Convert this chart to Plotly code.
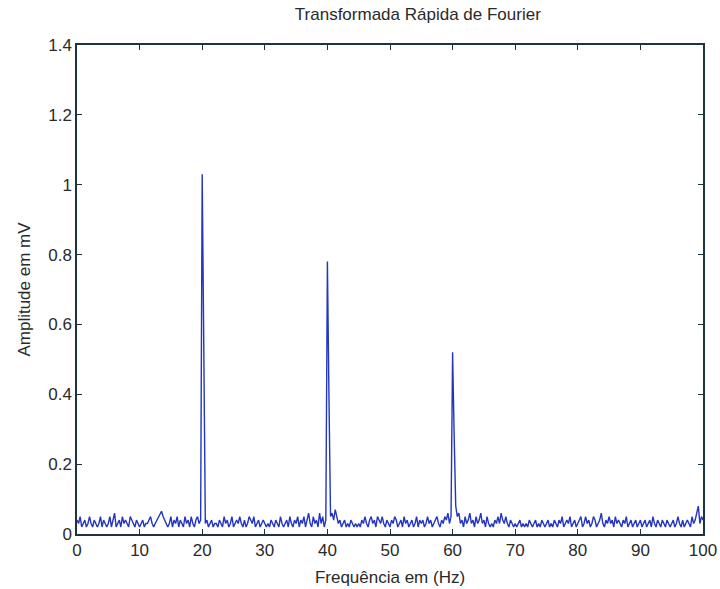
import numpy as np
import plotly.graph_objects as go

seg_00_05 = [0.04,0.03,0.05,0.02,0.03,0.04,0.02,0.03,0.05,0.03,0.02,0.04,0.03,0.02,0.03,0.05,0.02,0.04,0.03,0.02]
seg_05_10 = [0.03,0.05,0.02,0.04,0.06,0.02,0.03,0.04,0.02,0.05,0.03,0.04,0.03,0.02,0.05,0.04,0.03,0.02,0.04,0.03]
seg_10_15 = [0.02,0.03,0.04,0.02,0.03,0.03,0.04,0.05,0.03,0.02,0.03,0.04,0.05,0.06,0.065,0.05,0.04,0.03,0.02,0.03]
seg_15_20 = [0.05,0.02,0.04,0.03,0.05,0.02,0.04,0.03,0.02,0.05,0.03,0.04,0.02,0.05,0.03,0.02,0.04,0.05,0.03,0.04]
peak_20 = [1.03, 0.54]
seg_20_25 = [0.03,0.04,0.02,0.03,0.04,0.02,0.03,0.03,0.02,0.04,0.03,0.02,0.05,0.03,0.04,0.02,0.03,0.05]
seg_25_30 = [0.02,0.03,0.04,0.03,0.05,0.03,0.02,0.04,0.02,0.03,0.05,0.04,0.03,0.05,0.02,0.03,0.04,0.02,0.03,0.04]
seg_30_35 = [0.03,0.02,0.03,0.02,0.04,0.03,0.02,0.04,0.03,0.02,0.05,0.03,0.02,0.03,0.04,0.02,0.05,0.03,0.02,0.04]
seg_35_40 = [0.03,0.05,0.02,0.04,0.03,0.05,0.02,0.04,0.06,0.03,0.02,0.05,0.03,0.04,0.02,0.06,0.03,0.05,0.02,0.04]
peak_40 = [0.78, 0.39]
seg_40_45 = [0.05,0.06,0.04,0.07,0.05,0.03,0.04,0.02,0.03,0.04,0.02,0.03,0.02,0.04,0.03,0.02,0.03,0.02]
seg_45_50 = [0.03,0.02,0.04,0.03,0.05,0.03,0.02,0.04,0.05,0.03,0.04,0.02,0.05,0.04,0.03,0.05,0.03,0.02,0.04,0.03]
seg_50_55 = [0.02,0.04,0.03,0.05,0.04,0.02,0.03,0.04,0.02,0.05,0.03,0.04,0.02,0.03,0.04,0.02,0.03,0.05,0.02,0.04]
seg_55_60 = [0.03,0.04,0.02,0.03,0.05,0.03,0.04,0.02,0.03,0.04,0.05,0.03,0.02,0.04,0.03,0.05,0.04,0.06,0.03,0.05]
peak_60 = [0.52, 0.28]
seg_60_65 = [0.08,0.05,0.06,0.03,0.04,0.02,0.05,0.03,0.04,0.06,0.03,0.04,0.02,0.05,0.03,0.04,0.06,0.03]
seg_65_70 = [0.04,0.02,0.05,0.03,0.02,0.03,0.02,0.04,0.03,0.05,0.03,0.06,0.04,0.03,0.05,0.03,0.02,0.04,0.03,0.02]
seg_70_75 = [0.03,0.02,0.03,0.04,0.02,0.03,0.02,0.03,0.02,0.04,0.03,0.02,0.03,0.04,0.02,0.03,0.02,0.04,0.03,0.02]
seg_75_80 = [0.03,0.04,0.02,0.03,0.02,0.04,0.03,0.02,0.04,0.03,0.05,0.02,0.03,0.04,0.03,0.05,0.02,0.03,0.04,0.02]
seg_80_85 = [0.03,0.04,0.05,0.02,0.03,0.05,0.03,0.04,0.02,0.03,0.05,0.04,0.02,0.03,0.04,0.06,0.03,0.02,0.04,0.03]
seg_85_90 = [0.05,0.03,0.04,0.02,0.05,0.03,0.04,0.03,0.02,0.04,0.03,0.05,0.02,0.03,0.04,0.02,0.03,0.04,0.02,0.03]
seg_90_95 = [0.04,0.02,0.03,0.04,0.02,0.03,0.04,0.02,0.05,0.03,0.02,0.04,0.03,0.02,0.04,0.03,0.02,0.04,0.03,0.02]
seg_95_100 = [0.03,0.04,0.02,0.03,0.05,0.03,0.02,0.04,0.02,0.03,0.04,0.03,0.02,0.05,0.03,0.04,0.06,0.08,0.03,0.05,0.04]

amplitude = (seg_00_05 + seg_05_10 + seg_10_15 + seg_15_20 + peak_20 + seg_20_25 +
             seg_25_30 + seg_30_35 + seg_35_40 + peak_40 + seg_40_45 + seg_45_50 +
             seg_50_55 + seg_55_60 + peak_60 + seg_60_65 + seg_65_70 + seg_70_75 +
             seg_75_80 + seg_80_85 + seg_85_90 + seg_90_95 + seg_95_100)
frequency = np.arange(len(amplitude)) * 0.25

x_ticks = [0, 10, 20, 30, 40, 50, 60, 70, 80, 90, 100]
y_ticks = [0, 0.2, 0.4, 0.6, 0.8, 1.0, 1.2, 1.4]
y_tick_text = ["0", "0.2", "0.4", "0.6", "0.8", "1", "1.2", "1.4"]

axis_color = "#1d3440"
text_color = "#2a2a2a"
font_family = "Liberation Sans, Arial, sans-serif"

fig = go.Figure()
fig.add_trace(go.Scatter(x=frequency, y=amplitude, mode="lines",
                         line=dict(color="#2336c0", width=1.4), showlegend=False))

fig.update_layout(
    width=720, height=589,
    margin=dict(l=77, r=17, t=45, b=55, autoexpand=False),
    paper_bgcolor="white", plot_bgcolor="white",
    font=dict(family=font_family, size=15, color=text_color),
    title=dict(text="Transformada Rápida de Fourier", x=392 / 720, xanchor="center",
               y=1 - 14 / 589, yanchor="middle", xref="paper",
               font=dict(family=font_family, size=17, color=text_color)),
)
fig.update_xaxes(range=[0, 100], tickvals=x_ticks, showgrid=False, zeroline=False,
                 showline=True, linecolor=axis_color, linewidth=1.5, mirror="ticks",
                 ticks="inside", ticklen=5, tickcolor=axis_color, automargin=False,
                 title=dict(text="Frequência em (Hz)", standoff=12,
                            font=dict(family=font_family, size=17)),
                 tickfont=dict(family=font_family, size=17))
fig.update_yaxes(range=[0, 1.4], tickvals=y_ticks, ticktext=y_tick_text, showgrid=False,
                 zeroline=False, showline=True, linecolor=axis_color, linewidth=1.5,
                 mirror="ticks", ticks="inside", ticklen=5, tickcolor=axis_color,
                 automargin=False,
                 title=dict(text="Amplitude em mV", standoff=13,
                            font=dict(family=font_family, size=17)),
                 tickfont=dict(family=font_family, size=17))

fig.write_html("out.html", config={"displayModeBar": False})

# remove the browser's default page margin so the figure sits at the window origin
with open("out.html", "r", encoding="utf-8") as f:
    html = f.read()
html = html.replace("<head>", "<head><style>html,body{margin:0;padding:0;overflow:hidden;}</style>", 1)
with open("out.html", "w", encoding="utf-8") as f:
    f.write(html)
